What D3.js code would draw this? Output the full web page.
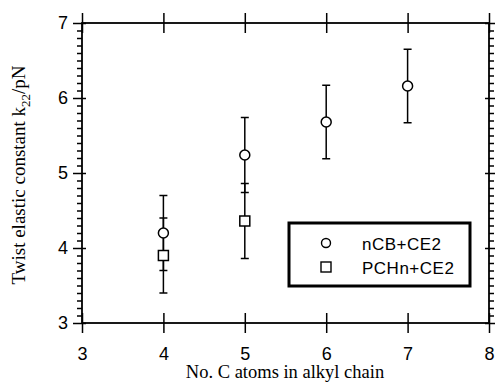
<!DOCTYPE html>
<html>
<head>
<meta charset="utf-8">
<script src="https://cdn.jsdelivr.net/npm/d3@7"></script>
<style>
  body { margin: 0; background: #fff; }
  svg text { fill: #000; }
  .tick line, .domain { stroke: #000; }
</style>
</head>
<body>
<svg id="chart" width="496" height="383"></svg>
<script>
// data
var chainLength = [4, 5, 6, 7];
var nCBValues = [4.2, 5.24, 5.68, 6.16];
var nCBErrors = [0.5, 0.5, 0.49, 0.49];

var pchLength = [4, 5];
var pchValues = [3.9, 4.36];
var pchErrors = [0.5, 0.5];

var xTicks = [3, 4, 5, 6, 7, 8];
var yTicks = [3, 4, 5, 6, 7];
var seriesNames = ["nCB+CE2", "PCHn+CE2"];

(function(d3) {
  var svg = d3.select("#chart");
  var left = 82, right = 489, top = 23, bottom = 323;

  var x = d3.scaleLinear().domain([3, 8]).range([left, right]);
  var y = d3.scaleLinear().domain([3, 7]).range([bottom, top]);

  var minorY = d3.range(30, 71).map(function(v) { return v / 10; })
    .filter(function(v) { return Math.abs(v - Math.round(v)) > 1e-6; });

  var tickFont = "'Liberation Sans', Arial, sans-serif";

  // bottom axis with labels, ticks crossing the line
  var gb = svg.append("g").attr("transform", "translate(0," + bottom + ")");
  gb.call(d3.axisBottom(x).tickValues(xTicks).tickSize(10).tickPadding(14).tickFormat(d3.format("d")));
  gb.append("g").call(d3.axisTop(x).tickValues(xTicks).tickSize(10).tickFormat(""));

  // top axis, ticks only
  var gt = svg.append("g").attr("transform", "translate(0," + top + ")");
  gt.call(d3.axisTop(x).tickValues(xTicks).tickSize(10).tickFormat(""));
  gt.append("g").call(d3.axisBottom(x).tickValues(xTicks).tickSize(10).tickFormat(""));

  // left axis
  var gl = svg.append("g").attr("transform", "translate(" + left + ",0)");
  gl.call(d3.axisLeft(y).tickValues(yTicks).tickSize(9).tickPadding(5).tickFormat(d3.format("d")));
  gl.append("g").call(d3.axisRight(y).tickValues(yTicks).tickSize(4).tickFormat(""));
  gl.append("g").call(d3.axisLeft(y).tickValues(minorY).tickSize(5).tickFormat(""));

  // right axis
  var gr = svg.append("g").attr("transform", "translate(" + right + ",0)");
  gr.call(d3.axisRight(y).tickValues(minorY).tickSize(5).tickFormat(""));
  gr.append("g").call(d3.axisRight(y).tickValues(yTicks).tickSize(6).tickFormat(""));
  gr.append("g").call(d3.axisLeft(y).tickValues(yTicks).tickSize(4).tickFormat(""));

  svg.selectAll(".domain").remove();
  svg.selectAll(".tick line").attr("stroke-width", 1.5);
  svg.selectAll(".tick text")
    .style("font-family", tickFont)
    .style("font-size", "18px");

  // frame
  svg.append("rect")
    .attr("x", left).attr("y", top)
    .attr("width", right - left).attr("height", bottom - top)
    .attr("fill", "none").attr("stroke", "#000").attr("stroke-width", 1.8);

  // error bars
  function errorBars(xs, vs, es) {
    var g = svg.append("g").attr("stroke", "#000").attr("stroke-width", 1.5);
    xs.forEach(function(d, i) {
      var cx = x(d), y0 = y(vs[i] - es[i]), y1 = y(vs[i] + es[i]);
      g.append("line").attr("x1", cx).attr("x2", cx).attr("y1", y0).attr("y2", y1);
      g.append("line").attr("x1", cx - 4).attr("x2", cx + 4).attr("y1", y0).attr("y2", y0);
      g.append("line").attr("x1", cx - 4).attr("x2", cx + 4).attr("y1", y1).attr("y2", y1);
    });
  }
  errorBars(chainLength, nCBValues, nCBErrors);
  errorBars(pchLength, pchValues, pchErrors);

  svg.append("g").selectAll("circle")
    .data(chainLength)
    .enter().append("circle")
    .attr("cx", function(d) { return x(d); })
    .attr("cy", function(d, i) { return y(nCBValues[i]); })
    .attr("r", 5)
    .attr("fill", "#fff").attr("stroke", "#000").attr("stroke-width", 1.5);

  svg.append("g").selectAll("rect")
    .data(pchLength)
    .enter().append("rect")
    .attr("x", function(d) { return x(d) - 5; })
    .attr("y", function(d, i) { return y(pchValues[i]) - 5; })
    .attr("width", 10).attr("height", 10)
    .attr("fill", "#fff").attr("stroke", "#000").attr("stroke-width", 1.5);

  // legend
  var lg = svg.append("g").attr("transform", "translate(289,223)");
  lg.append("rect").attr("width", 181).attr("height", 63)
    .attr("fill", "#fff").attr("stroke", "#000").attr("stroke-width", 3);
  lg.append("circle").attr("cx", 37).attr("cy", 20).attr("r", 4.5)
    .attr("fill", "none").attr("stroke", "#000").attr("stroke-width", 1.4);
  lg.append("rect").attr("x", 32).attr("y", 39).attr("width", 10).attr("height", 10)
    .attr("fill", "none").attr("stroke", "#000").attr("stroke-width", 1.4);
  lg.selectAll(".legend")
    .data(seriesNames)
    .enter().append("text")
    .attr("x", 73)
    .attr("y", function(d, i) { return 27 + i * 24; })
    .style("font-family", tickFont)
    .style("font-size", "17px")
    .style("letter-spacing", "0.5px")
    .text(function(d) { return d; });

  // axis titles
  svg.append("text")
    .attr("x", 285).attr("y", 378)
    .attr("text-anchor", "middle")
    .style("font-family", "'Liberation Serif', 'Times New Roman', serif")
    .style("font-size", "18.5px")
    .text("No. C atoms in alkyl chain");

  var yt = svg.append("text")
    .attr("transform", "translate(25,175) rotate(-90)")
    .attr("text-anchor", "middle")
    .style("font-family", "'Liberation Serif', 'Times New Roman', serif")
    .style("font-size", "19px");
  yt.append("tspan").text("Twist elastic constant k");
  yt.append("tspan").attr("dy", 5).style("font-size", "13px").text("22");
  yt.append("tspan").attr("dy", -5).text("/pN");
})(window.d3);
</script>
</body>
</html>
